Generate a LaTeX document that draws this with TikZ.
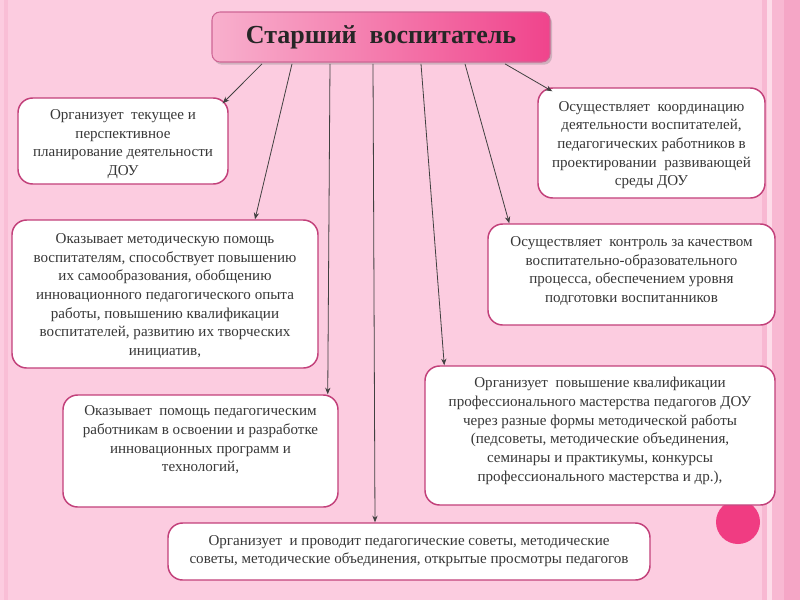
\documentclass[tikz,border=0pt]{standalone}
\usepackage{fontspec}
\setmainfont{Liberation Serif}
\usetikzlibrary{arrows.meta,shadows}
\definecolor{bgpink}{HTML}{FCCCE0}
\definecolor{bandpink}{HTML}{F8B8D2}
\definecolor{banddark}{HTML}{F5A6C6}
\definecolor{bandlight}{HTML}{FDDCE9}
\definecolor{edgepink}{HTML}{C2407A}
\definecolor{titleL}{HTML}{F8B0CD}
\definecolor{titleR}{HTML}{F0448C}
\definecolor{dotpink}{HTML}{F03C82}
\definecolor{txtgray}{HTML}{383838}
\tikzset{
  infobox/.style={draw=edgepink, line width=1.1pt, fill=white, rounded corners=11pt, inner sep=0pt},
  infotext/.style={align=center, text=txtgray, font=\fontsize{11.3}{14}\selectfont, inner sep=0pt},
  titlebox/.style={draw=edgepink!80, line width=0.8pt, rounded corners=6pt, left color=titleL, right color=titleR,
    drop shadow={shadow xshift=1.5pt, shadow yshift=-2pt, opacity=0.35}},
  arr/.style={draw=black!75, line width=0.6pt, -{Stealth[length=5pt,width=4pt]}}
}
\begin{document}
\begin{tikzpicture}[x=0.75pt,y=-0.75pt]
% background
\fill[bgpink] (0,0) rectangle (800,600);
\fill[bandpink] (762,0) rectangle (800,600);
\fill[bandlight] (767,0) rectangle (772,600);
\fill[banddark] (784,0) rectangle (800,600);
\fill[bandpink!70!bgpink] (4,0) rectangle (8,600);
\useasboundingbox (0,0) rectangle (800,600);

% title
\node[titlebox, minimum width=253.5pt, minimum height=37.5pt] (title) at (381,37)
  {\fontsize{19.5}{22}\selectfont\bfseries\color{black!85}Старший\ \ воспитатель};

% pink dot
\fill[dotpink] (738,522) circle[radius=16.5pt];

% boxes
\node[infobox, minimum width=157.5pt, minimum height=64.5pt] (A) at (123,141) {};
\node[infotext] (At) at (123,144) {Организует\ \ текущее и\\ перспективное\\ планирование деятельности\\ ДОУ};

\node[infobox, minimum width=229.5pt, minimum height=111pt] (B) at (165,294) {};
\node[infotext] (Bt) at (165,296) {Оказывает методическую помощь\\ воспитателям, способствует повышению\\ их самообразования, обобщению\\ инновационного педагогического опыта\\ работы, повышению квалификации\\ воспитателей, развитию их творческих\\ инициатив,};

\node[infobox, minimum width=170.25pt, minimum height=82.5pt] (C) at (651.5,143) {};
\node[infotext] (Ct) at (651.5,145) {Осуществляет\ \ координацию\\ деятельности воспитателей,\\ педагогических работников в\\ проектировании\ \ развивающей\\ среды ДОУ};

\node[infobox, minimum width=215.25pt, minimum height=75.75pt] (D) at (631.5,274.5) {};
\node[infotext] (Dt) at (631.5,271) {Осуществляет\ \ контроль за качеством\\ воспитательно-образовательного\\ процесса, обеспечением уровня\\ подготовки воспитанников};

\node[infobox, minimum width=262.5pt, minimum height=104.25pt] (E) at (600,435.5) {};
\node[infotext] (Et) at (600,431) {Организует\ \ повышение квалификации\\ профессионального мастерства педагогов ДОУ\\ через разные формы методической работы\\ (педсоветы, методические объединения,\\ семинары и практикумы, конкурсы\\ профессионального мастерства и др.),};

\node[infobox, minimum width=206.25pt, minimum height=84pt] (F) at (200.5,451) {};
\node[infotext] (Ft) at (200.5,440) {Оказывает\ \ помощь педагогическим\\ работникам в освоении и разработке\\ инновационных программ и\\ технологий,};

\node[infobox, minimum width=361.5pt, minimum height=42.75pt] (G) at (409,551.5) {};
\node[infotext] (Gt) at (409,551) {Организует\ \ и проводит педагогические советы, методические\\ советы, методические объединения, открытые просмотры педагогов};

% connectors
\draw[arr] ([xshift=-89.25pt,yshift=-1pt]title.south) -- ([xshift=-4.5pt,yshift=-4.5pt]A.north east);
\draw[arr] ([xshift=-66.75pt,yshift=-1pt]title.south) -- ([xshift=67.5pt]B.north);
\draw[arr] ([xshift=-38.25pt,yshift=-1pt]title.south) -- ([xshift=-8.25pt]F.north east);
\draw[arr] ([xshift=-6pt,yshift=-1pt]title.south) -- ([xshift=-25.5pt]G.north);
\draw[arr] ([xshift=30pt,yshift=-1pt]title.south) -- ([xshift=15pt]E.north west);
\draw[arr] ([xshift=63pt,yshift=-1pt]title.south) -- ([xshift=16.5pt]D.north west);
\draw[arr] ([xshift=93pt,yshift=-1pt]title.south) -- ([xshift=11.25pt,yshift=-3pt]C.north west);
\end{tikzpicture}
\end{document}
